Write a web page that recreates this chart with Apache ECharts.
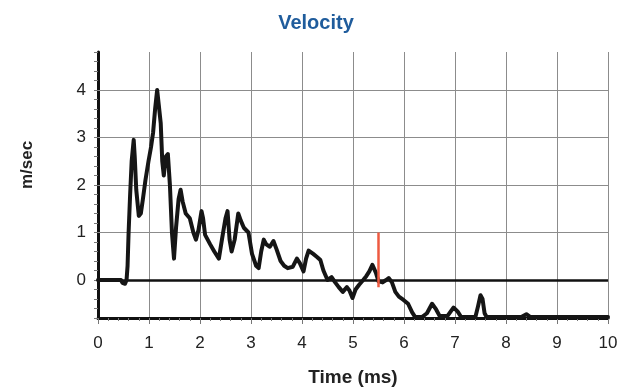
<!DOCTYPE html>
<html>
<head>
<meta charset="utf-8">
<script src="https://cdn.jsdelivr.net/npm/echarts@6/dist/echarts.min.js"></script>
<style>html,body{margin:0;padding:0;background:#fff}#c{width:633px;height:392px}</style>
</head>
<body>
<div id="c"></div>
<script>
var chartTitle = 'Velocity';
var xName = 'Time (ms)';
var yName = 'm/sec';
// velocity trace: [time (ms), velocity (m/sec)]
var velocityTrace = [
[0,0],[0.45,0],[0.48,-0.06],[0.53,-0.08],[0.56,0.0],[0.58,0.3],[0.6,1.0],[0.63,1.8],[0.66,2.5],[0.7,2.95],
[0.72,2.6],[0.75,1.9],[0.8,1.35],[0.84,1.4],[0.88,1.7],[0.93,2.1],[0.99,2.5],[1.04,2.8],[1.08,3.1],[1.12,3.6],
[1.16,4.0],[1.19,3.7],[1.23,3.3],[1.26,2.5],[1.29,2.2],[1.33,2.6],[1.37,2.65],[1.41,2.0],[1.45,1.0],[1.49,0.45],
[1.53,1.1],[1.58,1.7],[1.62,1.9],[1.66,1.65],[1.72,1.4],[1.8,1.3],[1.87,1.0],[1.92,0.85],[1.97,1.05],[2.03,1.45],
[2.06,1.3],[2.1,0.95],[2.2,0.75],[2.28,0.6],[2.37,0.45],[2.43,0.85],[2.5,1.3],[2.54,1.45],[2.58,0.85],[2.62,0.6],
[2.68,0.85],[2.75,1.4],[2.8,1.25],[2.86,1.1],[2.95,1.0],[3.02,0.55],[3.1,0.3],[3.15,0.25],[3.2,0.6],[3.25,0.85],
[3.3,0.75],[3.37,0.7],[3.44,0.82],[3.5,0.65],[3.58,0.4],[3.65,0.3],[3.72,0.25],[3.82,0.28],[3.9,0.45],[3.96,0.35],
[4.03,0.18],[4.08,0.45],[4.13,0.62],[4.22,0.55],[4.3,0.48],[4.36,0.42],[4.42,0.2],[4.5,0.0],[4.58,0.06],[4.65,-0.05],
[4.72,-0.15],[4.8,-0.25],[4.88,-0.15],[4.93,-0.22],[4.99,-0.38],[5.05,-0.2],[5.12,-0.1],[5.2,0.0],[5.26,0.08],[5.32,0.18],
[5.38,0.32],[5.41,0.36],[5.45,0.15],[5.5,-0.03],[5.58,-0.05],[5.65,0.0],[5.7,0.04],[5.76,-0.04],[5.83,-0.25],[5.9,-0.35],
[5.99,-0.42],[6.08,-0.5],[6.16,-0.68],[6.22,-0.78],[6.35,-0.78],[6.45,-0.7],[6.55,-0.5],[6.63,-0.62],[6.7,-0.76],[6.85,-0.76],
[6.97,-0.58],[7.05,-0.66],[7.12,-0.78],[7.4,-0.78],[7.45,-0.56],[7.5,-0.32],[7.54,-0.4],[7.58,-0.7],[7.62,-0.78],[8.3,-0.78],
[8.4,-0.72],[8.48,-0.78],[10,-0.78]
];
// red cursor marker
var cursorLine = [[5.5,-0.15],[5.5,1.0]];
var yGridValues = [1,2,3,4];
var zeroValue = 0;
var xMin = 0, xMax = 10, xStep = 1;
var yMin = -0.8, yMax = 4.8, yStep = 0.2;

var chart = echarts.init(document.getElementById('c'), null, {renderer:'canvas'});
var gridLineStyle = {color:'#8c8c8c', width:1, type:'solid'};
chart.setOption({
  animation:false,
  backgroundColor:'#fff',
  title:{text:chartTitle, left:311, top:8, textAlign:'center',
    textStyle:{color:'#1f5c9c', fontSize:20, fontWeight:'bold', fontFamily:'Liberation Sans, Arial, sans-serif'}},
  grid:{left:98, right:25, top:52, bottom:74},
  xAxis:{type:'value', min:xMin, max:xMax, interval:xStep,
    name:xName, nameLocation:'middle', nameGap:50,
    nameTextStyle:{color:'#222', fontSize:19, fontWeight:'bold', fontFamily:'Liberation Sans, Arial, sans-serif'},
    axisLine:{show:true, onZero:false, lineStyle:{color:'#111', width:3}},
    axisTick:{show:true, inside:false, length:6, lineStyle:{color:'#777', width:1}},
    minorTick:{show:true, splitNumber:5, length:3, lineStyle:{color:'#777', width:1}},
    axisLabel:{color:'#222', fontSize:17, margin:17, fontFamily:'Liberation Sans, Arial, sans-serif'},
    splitLine:{show:true, lineStyle:gridLineStyle}
  },
  yAxis:{type:'value', min:yMin, max:yMax, interval:yStep,
    name:yName, nameLocation:'middle', nameGap:62, nameRotate:90,
    nameTextStyle:{color:'#222', fontSize:17, fontWeight:'bold', fontFamily:'Liberation Sans, Arial, sans-serif', padding:[0,0,0,40]},
    axisLine:{show:true, onZero:false, lineStyle:{color:'#111', width:3}},
    axisTick:{show:true, inside:false, length:4, lineStyle:{color:'#777', width:1}},
    axisLabel:{color:'#222', fontSize:17, margin:12, fontFamily:'Liberation Sans, Arial, sans-serif',
      formatter:function(v){ return Math.abs(v - Math.round(v)) < 1e-6 && v > -0.5 ? String(Math.round(v)) : ''; }},
    splitLine:{show:false}
  },
  series:[
    {type:'line', data:velocityTrace, showSymbol:false, symbol:'none',
      lineStyle:{color:'#151515', width:4, join:'round', cap:'round'},
      z:5,
      markLine:{silent:true, symbol:['none','none'], label:{show:false},
        data:yGridValues.map(function(v){return {yAxis:v, lineStyle:gridLineStyle};})
          .concat([{yAxis:zeroValue, lineStyle:{color:'#111', width:2.5, type:'solid'}}])}
    },
    {type:'line', data:cursorLine, showSymbol:false, symbol:'none',
      lineStyle:{color:'#ee5a40', width:2.5}, z:6}
  ]
});
</script>
</body>
</html>
